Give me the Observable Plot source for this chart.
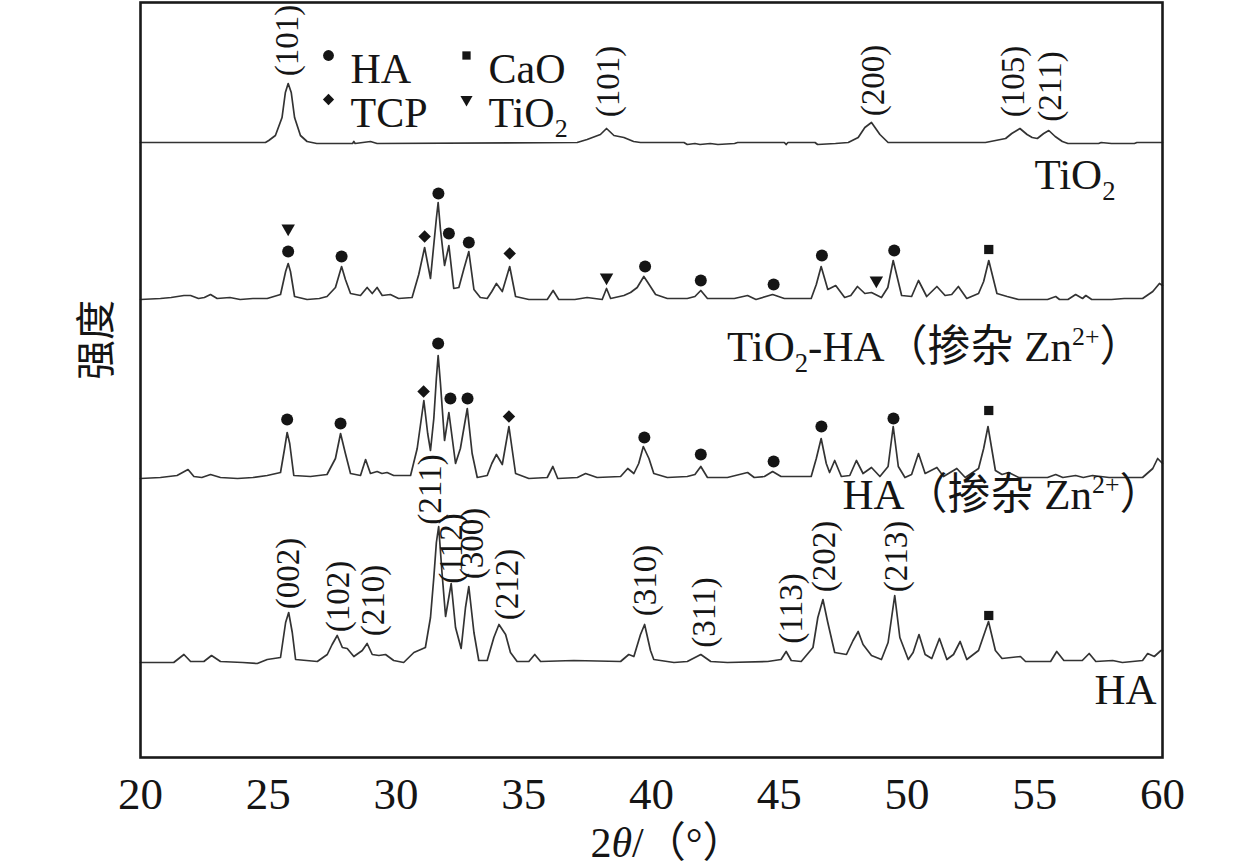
<!DOCTYPE html>
<html>
<head>
<meta charset="utf-8">
<script src="https://cdn.jsdelivr.net/npm/d3@7"></script>
<script src="https://cdn.jsdelivr.net/npm/@observablehq/plot@0.6"></script>
<style>
  html, body { margin: 0; padding: 0; background: #fff; }
  #chart { width: 1259px; height: 868px; }
</style>
</head>
<body>
<div id="chart"></div>
<script>
// ---------------- data ----------------
const xTicks = [20, 25, 30, 35, 40, 45, 50, 55, 60];
const seriesNames = ["TiO₂", "TiO₂-HA（掺杂 Zn²⁺）", "HA（掺杂 Zn²⁺）", "HA"];
const seriesOffsets = [615, 458, 279, 95];

// [2θ, intensity above own baseline]
const tio2Trace = [[20,0],[24.89,0],[25.02,2],[25.28,7],[25.54,25],[25.67,50],[25.78,59],[25.9,50],[26.03,25],[26.26,7],[26.52,1],[26.9,-1],[28.3,-1],[28.35,1],[28.4,-1],[29.0,1],[29.26,-1],[37.09,0],[37.48,3],[38.0,8],[38.24,14],[38.53,7],[38.92,5],[39.3,1],[39.57,0],[41.27,0],[41.4,-2],[41.7,-1],[41.9,-2],[42.3,-1],[42.6,-2],[43.25,-1],[43.37,0],[45.2,0],[45.27,-2],[45.34,0],[46.4,0],[46.5,-2],[47.2,-1],[47.7,0],[48.09,5],[48.35,15],[48.61,20],[48.94,8],[49.26,0],[53.07,0],[53.86,4],[54.1,9],[54.42,14],[54.7,8],[54.9,5],[55.1,4],[55.35,9],[55.55,12],[55.8,6],[56.08,1],[56.3,-1],[57.5,-1],[57.6,0],[58.0,-1],[58.9,-1],[59.0,0],[60,0]];

const tio2haTrace = [[20,0],[20.78,1],[21.2,2],[21.7,4],[21.96,4],[22.27,1],[22.5,2],[22.74,5],[23.0,1],[23.5,2],[23.9,0],[24.4,1],[24.96,1],[25.48,5],[25.68,28],[25.78,36],[25.87,28],[26.03,3],[26.52,0],[27.0,1],[27.3,3],[27.63,12],[27.87,33],[28.02,20],[28.22,6],[28.61,4],[28.87,12],[29.07,6],[29.26,12],[29.46,4],[29.78,5],[30.1,1],[30.63,2],[30.89,25],[31.12,52],[31.35,21],[31.48,55],[31.58,81],[31.65,97],[31.74,70],[31.9,34],[32.07,54],[32.26,11],[32.46,12],[32.65,30],[32.85,48],[33.05,10],[33.3,2],[33.57,1],[33.75,8],[33.93,16],[34.16,8],[34.45,33],[34.68,3],[35.2,0],[35.92,0],[36.15,9],[36.37,0],[37.0,0],[37.48,2],[38.07,0],[38.24,11],[38.4,1],[38.92,4],[39.18,7],[39.44,12],[39.7,23],[39.83,18],[40.16,5],[40.62,1],[41.4,1],[41.7,3],[41.93,9],[42.19,1],[42.7,1],[43.24,1],[43.76,4],[44.09,0],[44.74,5],[45.2,1],[46.25,1],[46.45,15],[46.64,33],[46.9,10],[47.21,14],[47.56,2],[47.8,4],[48.06,13],[48.35,6],[48.61,7],[49.0,2],[49.25,12],[49.46,39],[49.79,4],[50.18,3],[50.45,19],[50.77,3],[51.17,13],[51.49,4],[51.75,5],[52.01,13],[52.34,1],[52.8,6],[53.0,18],[53.2,39],[53.52,6],[53.92,3],[54.37,0],[55.5,0],[55.82,3],[55.97,0],[56.3,0],[56.6,5],[56.87,1],[57.0,4],[57.23,0],[58.0,0],[58.5,1],[59.22,1],[59.62,8],[59.88,16],[60,14]];

const haZnTrace = [[20,0],[20.78,1],[21.43,3],[21.86,9],[22.09,2],[22.4,1],[22.74,4],[23.13,1],[23.8,0],[24.4,1],[24.96,3],[25.48,6],[25.64,30],[25.74,46],[25.84,35],[26.0,3],[26.65,2],[27.3,4],[27.63,20],[27.83,45],[28.02,25],[28.22,5],[28.61,3],[28.81,19],[29.0,5],[29.26,7],[29.45,5],[29.65,6],[29.91,3],[30.57,3],[30.83,30],[31.09,78],[31.24,45],[31.35,28],[31.48,60],[31.58,100],[31.65,123],[31.74,95],[31.9,38],[32.07,66],[32.33,15],[32.52,30],[32.79,70],[32.98,25],[33.18,1],[33.57,3],[33.75,15],[33.93,24],[34.16,14],[34.42,52],[34.68,5],[35.2,0],[35.92,1],[36.14,12],[36.33,0],[37.1,1],[37.42,5],[37.87,1],[38.79,2],[39.07,10],[39.31,5],[39.5,15],[39.68,32],[39.9,20],[40.09,5],[40.62,1],[41.4,2],[41.7,4],[41.93,12],[42.19,1],[42.97,1],[43.76,6],[44.02,1],[44.42,2],[44.74,7],[45.07,2],[46.25,2],[46.45,20],[46.64,40],[46.84,15],[46.97,6],[47.17,18],[47.43,2],[47.76,3],[48.02,18],[48.28,5],[48.61,11],[48.94,2],[49.26,12],[49.46,52],[49.66,12],[49.92,1],[50.18,4],[50.45,25],[50.71,5],[51.17,11],[51.43,2],[51.95,10],[52.28,1],[52.8,10],[53.0,30],[53.17,52],[53.46,8],[53.72,4],[53.98,6],[54.37,1],[55.5,1],[55.82,4],[56.1,1],[56.6,3],[56.9,1],[57.26,3],[57.91,1],[59.22,1],[59.62,10],[59.81,20],[60,15]];

const haTrace = [[20,0],[21.3,0],[21.7,8],[21.96,1],[22.48,1],[22.78,7],[23.13,1],[24.0,0],[24.57,-1],[24.96,3],[25.48,5],[25.68,40],[25.8,50],[25.94,30],[26.07,3],[26.92,1],[27.31,8],[27.5,18],[27.7,27],[27.9,15],[28.09,14],[28.35,6],[28.68,12],[28.87,19],[29.07,8],[29.33,7],[29.59,8],[29.91,2],[30.3,0],[30.7,10],[31.15,15],[31.35,45],[31.48,85],[31.58,120],[31.67,136],[31.8,90],[31.94,46],[32.16,79],[32.33,35],[32.55,14],[32.72,55],[32.85,76],[33.05,30],[33.24,2],[33.57,2],[33.83,25],[34.03,38],[34.29,28],[34.48,10],[34.74,1],[35.2,1],[35.43,8],[35.66,1],[36.96,2],[38.79,1],[39.11,8],[39.31,6],[39.57,28],[39.73,38],[39.96,12],[40.09,3],[40.88,0],[41.4,1],[41.93,8],[42.32,1],[42.97,0],[44.55,1],[45.07,3],[45.27,11],[45.47,2],[45.86,1],[46.32,15],[46.51,45],[46.71,63],[46.9,40],[47.17,10],[47.63,8],[47.89,22],[48.09,31],[48.28,18],[48.61,7],[49.0,3],[49.26,20],[49.52,67],[49.72,25],[50.05,3],[50.24,10],[50.47,28],[50.71,8],[50.97,4],[51.27,24],[51.56,3],[51.82,8],[52.08,21],[52.34,3],[52.8,12],[53.19,41],[53.46,12],[53.72,4],[54.44,6],[54.64,1],[55.62,1],[55.86,11],[56.14,2],[56.86,2],[57.13,9],[57.39,1],[58.05,2],[58.43,0],[59.22,2],[59.42,9],[59.68,6],[59.94,12],[60,12]];

// phase markers: [2θ, height above own baseline, phase]
const tio2haMarkers = [[25.78,71,"TiO2"],[25.78,48,"HA"],[27.87,43,"HA"],[31.12,63,"TCP"],[31.66,106,"HA"],[32.07,66,"HA"],[32.85,57,"HA"],[34.45,46,"TCP"],[38.24,22,"TiO2"],[39.75,33,"HA"],[41.93,19,"HA"],[44.78,15,"HA"],[46.67,44,"HA"],[48.8,19,"TiO2"],[49.5,49,"HA"],[53.2,50,"CaO"]];
const haZnMarkers = [[25.74,59,"HA"],[27.83,55,"HA"],[31.08,87,"TCP"],[31.65,135,"HA"],[32.13,80,"HA"],[32.8,80,"HA"],[34.42,62,"TCP"],[39.72,41,"HA"],[41.93,24,"HA"],[44.78,17,"HA"],[46.65,52,"HA"],[49.47,60,"HA"],[53.2,68,"CaO"]];
const haMarkers = [[53.2,47,"CaO"]];

// Miller-index labels: [2θ, height above own baseline, text]
const tio2Labels = [[25.75,102,"(101)"],[38.3,61,"(101)"],[48.68,62,"(200)"],[54.17,61,"(105)"],[55.62,56,"(211)"]];
const haLabels = [[25.8,89,"(002)"],[27.75,66,"(102)"],[29.13,62,"(210)"],[31.35,173,"(211)"],[32.17,114,"(112)"],[33.0,119,"(300)"],[34.36,78,"(212)"],[39.77,82,"(310)"],[42.06,50,"(311)"],[45.48,54,"(113)"],[46.77,106,"(202)"],[49.59,106,"(213)"]];

const legendPhases = ["HA", "CaO", "TCP", "TiO2"];
const legendTexts = ["HA", "CaO", "TCP", "TiO₂"];

// ---------------- styles ----------------
const SERIF = "Liberation Serif, Times New Roman, Noto Sans CJK SC, serif";
const CJK = "Noto Sans CJK SC, sans-serif";
const INK = "#151515";
const symbolStyle = {
  HA:   {symbol: "circle",   r: 6,   rotate: 0},
  CaO:  {symbol: "square",   r: 5.2, rotate: 0},
  TCP:  {symbol: "square",   r: 5.0, rotate: 45},
  TiO2: {symbol: "triangle", r: 5.0, rotate: 180}
};

const traces = [tio2Trace, tio2haTrace, haZnTrace, haTrace];
const markerSets = [[], tio2haMarkers, haZnMarkers, haMarkers];
const labelSets = [tio2Labels, [], [], haLabels];
const seriesLabelLayout = [
  {dx: -47, dy: 33},
  {dx: -20, dy: 48},
  {dx: 0, dy: 17},
  {dx: -6, dy: 28}
];

const marks = [];

traces.forEach((tr, i) => {
  const off = seriesOffsets[i];
  marks.push(Plot.line(tr, {x: d => d[0], y: d => d[1] + off, stroke: "#333", strokeWidth: 1.7, strokeLinejoin: "round"}));
});

markerSets.forEach((set, i) => {
  const off = seriesOffsets[i];
  for (const phase of Object.keys(symbolStyle)) {
    const s = symbolStyle[phase];
    const subset = set.filter(d => d[2] === phase);
    if (subset.length) {
      marks.push(Plot.dot(subset, {x: d => d[0], y: d => d[1] + off, symbol: s.symbol, r: s.r, rotate: s.rotate, fill: INK, stroke: "none"}));
    }
  }
});

labelSets.forEach((set, i) => {
  const off = seriesOffsets[i];
  if (set.length) {
    marks.push(Plot.text(set, {x: d => d[0], y: d => d[1] + off, text: d => d[2], rotate: -90, fontSize: 33, fontFamily: SERIF, fill: INK}));
  }
});

seriesNames.forEach((name, i) => {
  const L = seriesLabelLayout[i];
  marks.push(Plot.text([name], {x: () => 60, y: () => seriesOffsets[i], text: d => d, textAnchor: "end", dx: L.dx, dy: L.dy, fontSize: 43, fontFamily: SERIF, fill: INK}));
});

// legend (top-left inside frame)
legendPhases.forEach((ph, i) => {
  const col = i % 2, row = Math.floor(i / 2);
  const mx = 188 + col * 138, my = 51 + row * 44;
  const s = symbolStyle[ph];
  marks.push(Plot.dot([ph], {frameAnchor: "top-left", dx: mx, dy: my + 2, symbol: s.symbol, r: s.r * 0.9, rotate: s.rotate, fill: INK, stroke: "none"}));
  marks.push(Plot.text([legendTexts[i]], {frameAnchor: "top-left", dx: mx + 22, dy: my, text: d => d, textAnchor: "start", fontSize: 42, fontFamily: SERIF, fill: INK}));
});

// axis labels
marks.push(Plot.text(["强度"], {frameAnchor: "left", dx: -43, text: d => d, rotate: -90, fontSize: 40, fontFamily: CJK, fill: INK}));
marks.push(Plot.text(["2θ/（°）"], {frameAnchor: "bottom", dx: 16, dy: 99, text: d => d, fontSize: 42, fontFamily: SERIF, fill: INK}));

marks.push(Plot.axisX({ticks: xTicks, tickSize: 0, tickPadding: 20, fontSize: 45, fontFamily: SERIF, label: null, fill: INK, tickFormat: d => String(d)}));
marks.push(Plot.frame({stroke: "#1a1a1a", strokeWidth: 2.6}));

const chart = Plot.plot({
  width: 1259,
  height: 868,
  marginLeft: 140,
  marginRight: 97,
  marginTop: 2,
  marginBottom: 111,
  x: {domain: [20, 60], label: null},
  y: {domain: [0, 755], axis: null},
  style: {background: "#fff", color: INK, fontFamily: SERIF},
  marks
});
document.getElementById("chart").appendChild(chart);

// force serif family on every Latin text group (CJK falls back per glyph)
d3.select(chart).selectAll("g[aria-label='text'], g[aria-label='x-axis tick label']").each(function () {
  if (this.getAttribute("font-family") !== CJK) this.setAttribute("font-family", SERIF);
});

// rich text: subscripts, superscripts, italic theta
d3.select(chart).selectAll("text").each(function () {
  const el = this;
  const t = el.textContent;
  if (!/[₂²θ]/.test(t) || el.querySelector("tspan")) return;
  const fs = parseFloat(getComputedStyle(el).fontSize) || 40;
  const parts = t.split(/(₂|²⁺|θ)/).filter(p => p !== "");
  while (el.firstChild) el.removeChild(el.firstChild);
  let shift = 0;
  const NS = "http://www.w3.org/2000/svg";
  for (const p of parts) {
    const ts = document.createElementNS(NS, "tspan");
    if (p === "₂") {
      ts.textContent = "2";
      ts.setAttribute("font-size", (fs * 0.62).toFixed(1));
      ts.setAttribute("dy", (fs * 0.24 - shift).toFixed(1));
      shift = fs * 0.24;
    } else if (p === "²⁺") {
      ts.textContent = "2+";
      ts.setAttribute("font-size", (fs * 0.6).toFixed(1));
      ts.setAttribute("dy", (-fs * 0.38 - shift).toFixed(1));
      shift = -fs * 0.38;
    } else {
      ts.textContent = p;
      if (p === "θ") ts.setAttribute("font-style", "italic");
      if (shift !== 0) { ts.setAttribute("dy", (-shift).toFixed(1)); shift = 0; }
    }
    el.appendChild(ts);
  }
});
</script>
</body>
</html>
